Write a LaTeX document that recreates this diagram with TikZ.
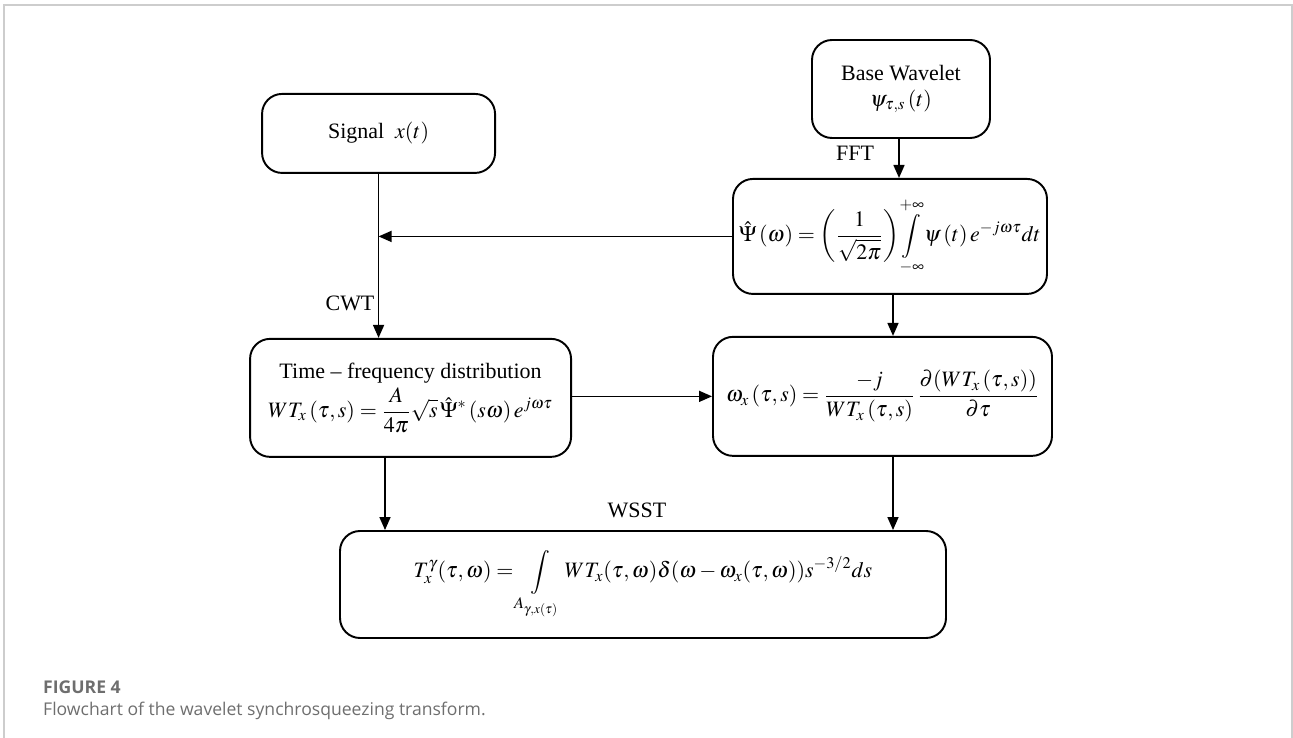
\documentclass[tikz,border=0pt]{standalone}
\usepackage{amsmath}
\usepackage{mathtools}
\usepackage{mathptmx}
\usepackage{fontspec}
\setmainfont{Liberation Serif}
\newfontfamily\potpisfont{Open Sans}
\usepackage{tikz}
\usetikzlibrary{arrows.meta,positioning,calc}
\definecolor{okvirsiva}{RGB}{205,205,205}
\definecolor{potpissiva}{RGB}{110,110,110}

\begin{document}
\begin{tikzpicture}[
    blok/.style={rectangle,rounded corners=0.4cm,draw,line width=1.1pt,align=center,
                 font=\fontsize{12.5}{15}\selectfont,inner sep=2pt},
    strelica/.style={-{Triangle[length=2.6mm,width=2.2mm]},line width=0.9pt},
    oznaka/.style={font=\fontsize{12.5}{15}\selectfont}
]
\useasboundingbox (0,0) rectangle (25.86,-14.76);
% okvir slike
\draw[okvirsiva,line width=0.6pt] (0.08,-14.76) -- (0.08,-0.1) -- (25.84,-0.1) -- (25.84,-14.76);

\node[blok,minimum width=3.56cm,minimum height=1.96cm] (baza) at (18.02,-1.78)
    {Base Wavelet\\ $\psi_{\tau,s}\left(t\right)$};
\node[blok,minimum width=6.28cm,minimum height=2.3cm,below=0.78cm of baza,xshift=-0.22cm] (psi)
    {$\displaystyle \hat{\Psi}\left(\omega\right)=\left(\frac{1}{\sqrt{2\pi}}\right)\mathop{\int}\limits_{\mathclap{-\infty}}^{\mathclap{+\infty}}\psi\left(t\right)e^{-j\omega\tau}dt$};
\node[blok,minimum width=6.78cm,minimum height=2.38cm,below=0.82cm of psi,xshift=-0.15cm] (omega)
    {$\displaystyle \omega_x\left(\tau,s\right)=\frac{-j}{WT_x\left(\tau,s\right)}\,\frac{\partial(WT_x\left(\tau,s\right))}{\partial\tau}$};
\node[blok,minimum width=6.42cm,minimum height=2.36cm,left=2.8cm of omega,yshift=-0.03cm] (tf)
    {Time -- frequency distribution\\[2pt] $\displaystyle WT_x\left(\tau,s\right)=\frac{A}{4\pi}\sqrt{s}\,\hat{\Psi}^{*}\left(s\omega\right)e^{j\omega\tau}$};
\node[blok,minimum width=4.66cm,minimum height=1.58cm,above=3.28cm of tf,xshift=-0.64cm] (signal)
    {Signal \ $x(t)$};
\node[blok,minimum width=12.12cm,minimum height=2.14cm] (wsst) at (12.86,-11.69)
    {$\displaystyle T_x^{\gamma}(\tau,\omega)=\int\limits_{A_{\gamma,x(\tau)}}WT_x(\tau,\omega)\delta(\omega-\omega_x(\tau,\omega))s^{-3/2}ds$};

\node[oznaka] (fft) at (17.1,-3.06) {FFT};
\node[oznaka] (cwt) at (7.0,-6.06) {CWT};
\node[oznaka] (wsstoz) at (12.74,-10.2) {WSST};

\draw[strelica] (baza.south -| 17.98,0) -- (psi.north -| 17.98,0);
\draw[strelica] (signal.south) -- (signal.south |- tf.north);
\draw[strelica] (psi.west) -- (psi.west -| signal.south);
\draw[strelica] (psi.south -| 17.86,0) -- (omega.north -| 17.86,0);
\draw[strelica] (tf.east |- omega.west) -- (omega.west);
\draw[strelica] (tf.south -| 7.7,0) -- (wsst.north -| 7.7,0);
\draw[strelica] (omega.south -| 17.86,0) -- (wsst.north -| 17.86,0);

\node[anchor=west,text=potpissiva,font=\potpisfont\bfseries\fontsize{10}{12}\selectfont] (slika) at (0.74,-13.74) {FIGURE 4};
\node[anchor=west,text=potpissiva,font=\potpisfont\fontsize{10}{12}\selectfont] (potpis) at (0.74,-14.22) {Flowchart of the wavelet synchrosqueezing transform.};
\end{tikzpicture}
\end{document}
